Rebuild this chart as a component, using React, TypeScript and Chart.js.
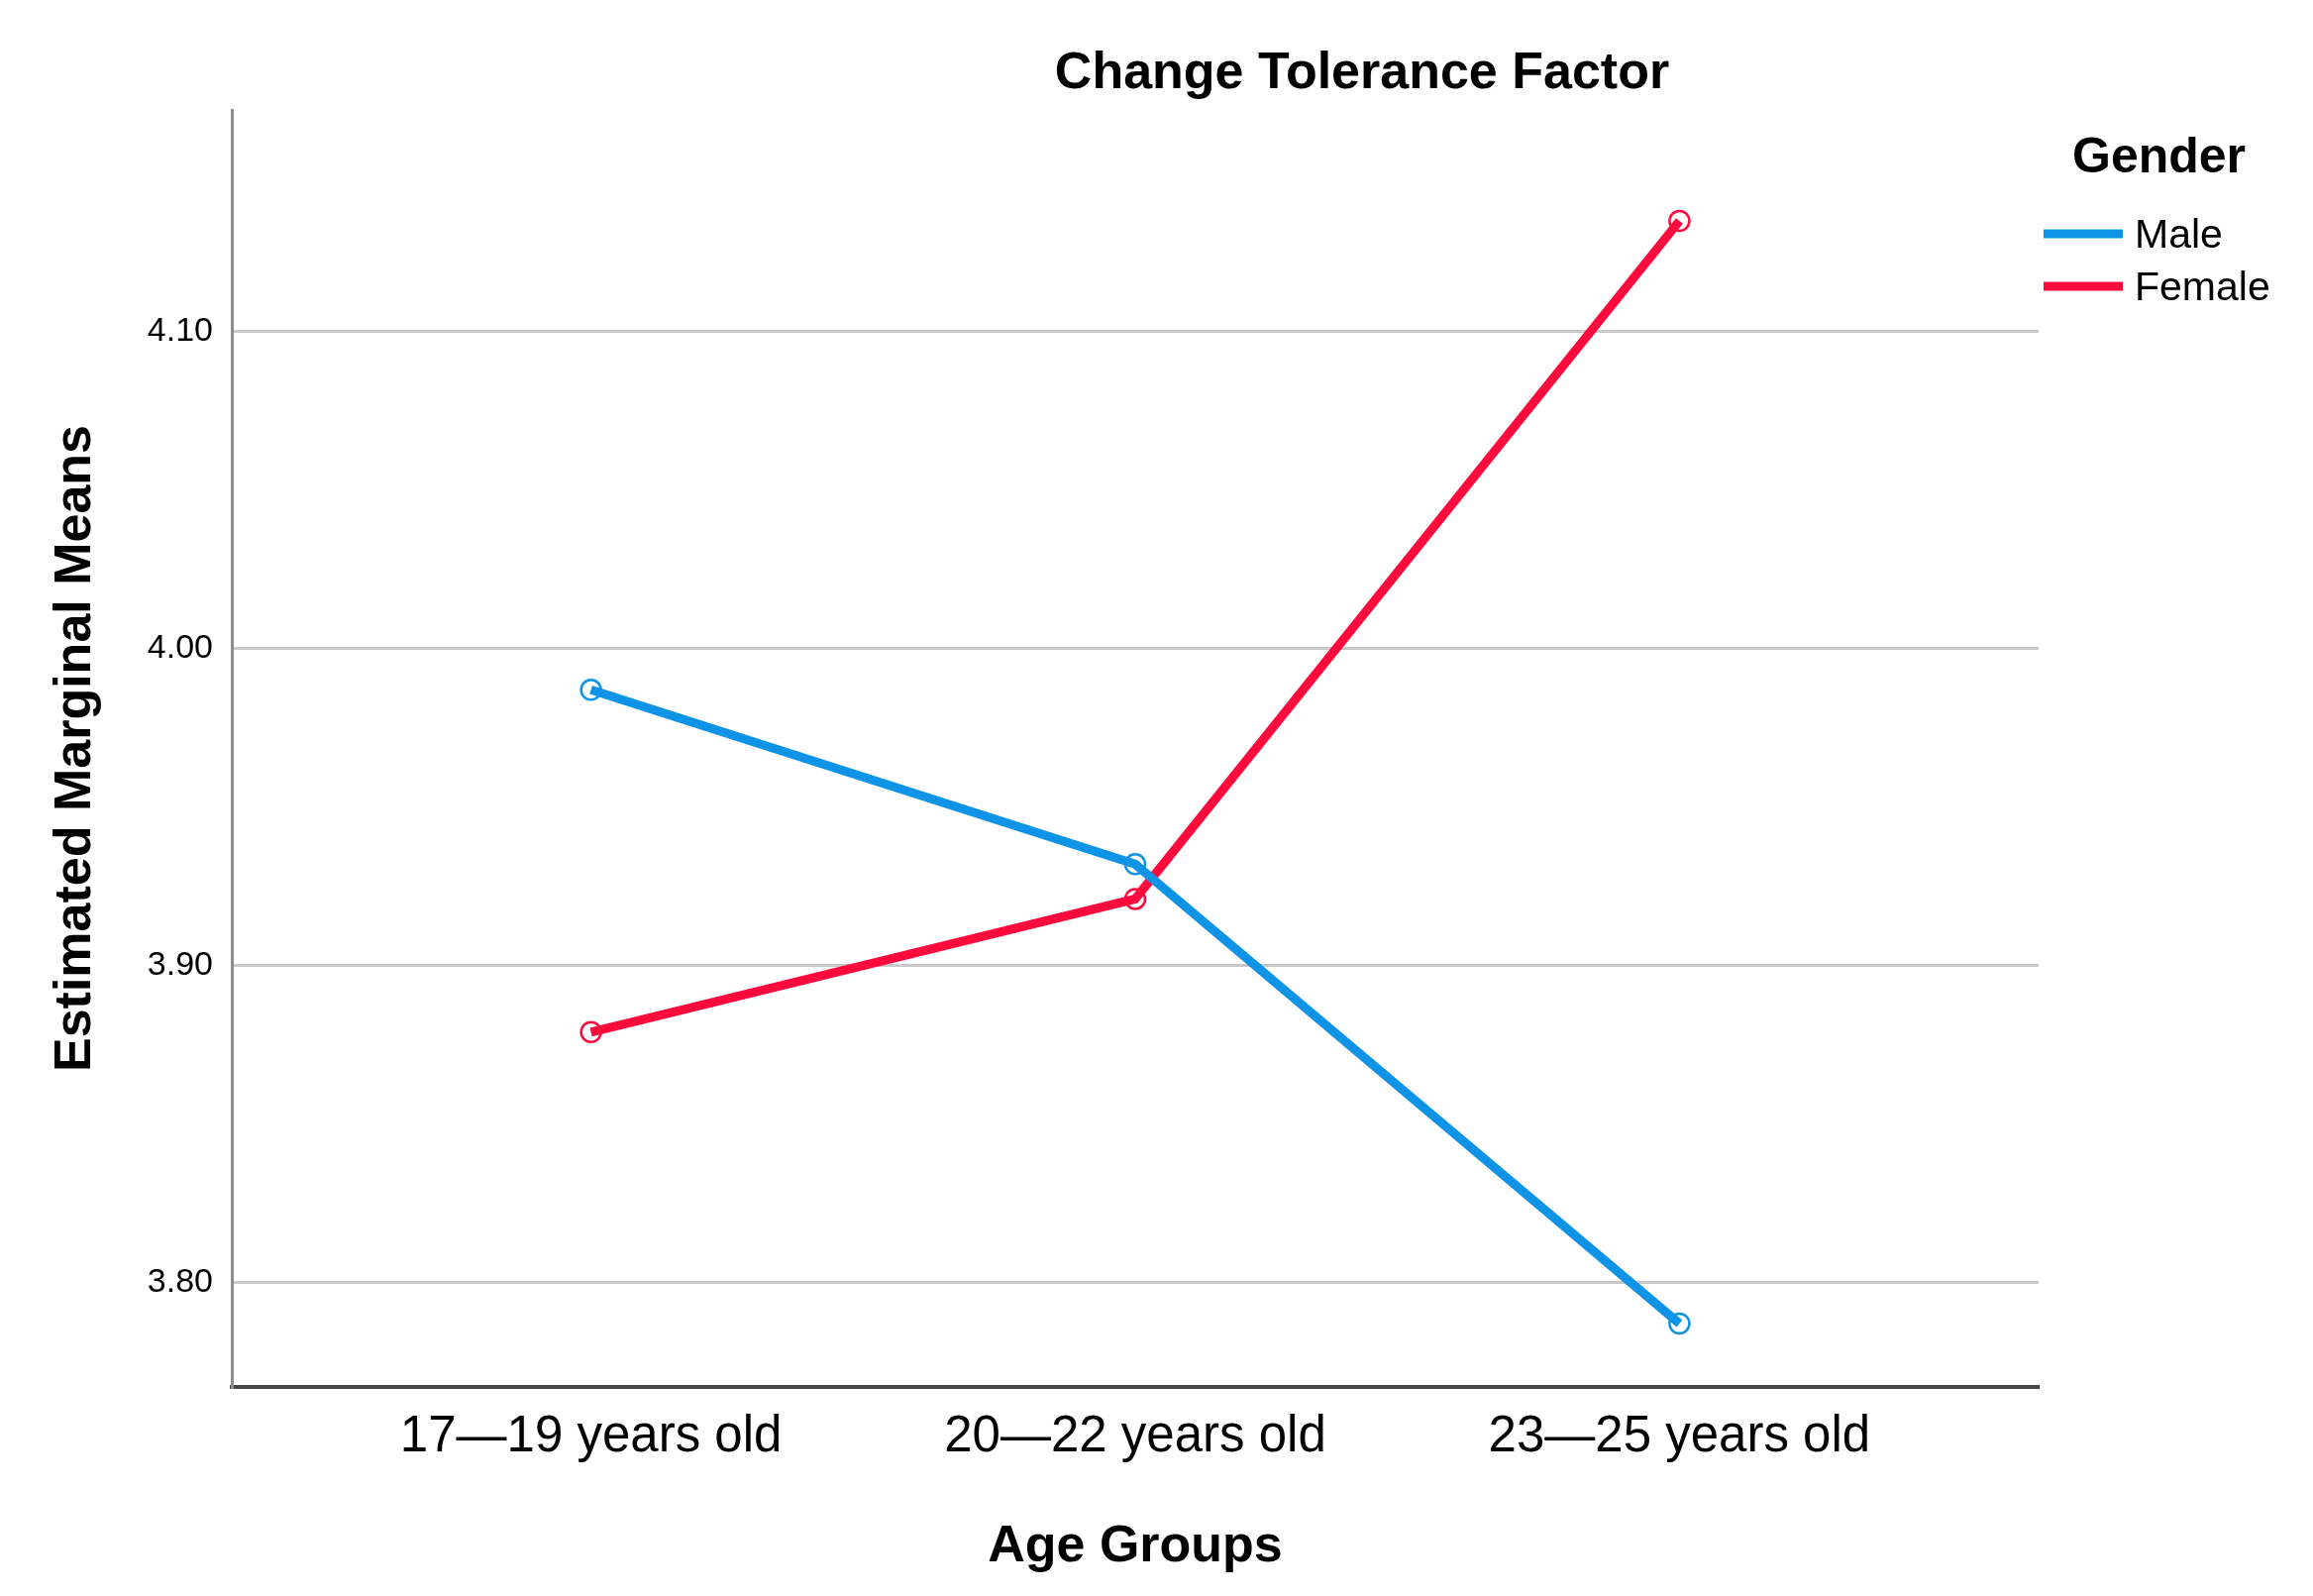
import { useEffect, useRef } from 'react';
import { Chart, registerables } from 'chart.js';

Chart.register(...registerables);

const FONT = '"Liberation Sans", Arial, sans-serif';

const chartTitle = 'Change Tolerance Factor';
const xTitle = 'Age Groups';
const yTitle = 'Estimated Marginal Means';
const legendTitle = 'Gender';

const ageGroups = ['17—19 years old', '20—22 years old', '23—25 years old'];
const genders = ['Male', 'Female'];
const maleMeans = [3.987, 3.932, 3.787];
const femaleMeans = [3.879, 3.921, 4.135];
const yTicks = [3.8, 3.9, 4.0, 4.1];
const seriesColors = ['#0F93E6', '#FF0A3C'];

// draws the SPSS-style title and the legend block on the right
const textPlugin = {
  id: 'spssText',
  afterDraw(chart: any) {
    const { ctx } = chart;
    ctx.save();
    ctx.fillStyle = '#000';
    ctx.textBaseline = 'middle';
    ctx.textAlign = 'center';
    ctx.font = `bold 52px ${FONT}`;
    ctx.fillText(chartTitle, 1375, 75);

    ctx.textAlign = 'left';
    ctx.font = `bold 50px ${FONT}`;
    ctx.fillText(legendTitle, 2092, 160);

    chart.data.datasets.forEach((ds: any, i: number) => {
      const y = 236 + i * 53;
      ctx.strokeStyle = ds.borderColor;
      ctx.lineWidth = 9;
      ctx.beginPath();
      ctx.moveTo(2063, y);
      ctx.lineTo(2143, y);
      ctx.stroke();
      ctx.font = `41px ${FONT}`;
      ctx.fillText(ds.label, 2155, y + 3);
    });
    ctx.restore();
  },
};

export default function App() {
  const canvasRef = useRef<HTMLCanvasElement>(null);
  const chartRef = useRef<Chart | null>(null);

  useEffect(() => {
    if (chartRef.current) chartRef.current.destroy();
    if (!canvasRef.current) return;
    const ctx = canvasRef.current.getContext('2d');
    if (!ctx) return;

    const series = [maleMeans, femaleMeans];

    chartRef.current = new Chart(ctx, {
      type: 'line',
      data: {
        datasets: genders.map((g, i) => ({
          label: g,
          data: series[i].map((v, j) => ({ x: j, y: v })),
          borderColor: seriesColors[i],
          borderWidth: 9,
          tension: 0,
          pointRadius: 10,
          pointBorderWidth: 2.5,
          pointBorderColor: seriesColors[i],
          pointBackgroundColor: 'rgba(255,255,255,0)',
          fill: false,
        })),
      },
      options: {
        animation: false,
        responsive: true,
        maintainAspectRatio: false,
        layout: { padding: { top: 111, right: 277, left: 0, bottom: 0 } },
        plugins: {
          legend: { display: false },
          title: { display: false },
          tooltip: { enabled: false },
        },
        scales: {
          x: {
            type: 'linear',
            min: -0.66,
            max: 2.66,
            afterBuildTicks: (s: any) => {
              s.ticks = ageGroups.map((_, i) => ({ value: i }));
            },
            afterFit: (s: any) => {
              s.height = 211;
            },
            grid: { display: false, drawTicks: false },
            border: { display: true, color: '#454545', width: 4 },
            ticks: {
              callback: (v: any) => ageGroups[Number(v)] ?? '',
              font: { size: 51, family: FONT },
              color: '#000',
              padding: 20,
              maxRotation: 0,
              autoSkip: false,
            },
            title: {
              display: true,
              text: xTitle,
              font: { size: 52, weight: 'bold', family: FONT },
              color: '#000',
              padding: { top: 0, bottom: 18 },
            },
          },
          y: {
            type: 'linear',
            min: 3.767,
            max: 4.17,
            afterBuildTicks: (s: any) => {
              s.ticks = yTicks.map((v) => ({ value: v }));
            },
            afterFit: (s: any) => {
              s.width = 234;
            },
            grid: { color: '#C8C8C8', lineWidth: 3, drawTicks: false },
            border: { color: '#8C8C8C', width: 3 },
            ticks: {
              callback: (v: any) => Number(v).toFixed(2),
              font: { size: 34, family: FONT },
              color: '#000',
              padding: 19,
            },
            title: {
              display: true,
              text: yTitle,
              font: { size: 52, weight: 'bold', family: FONT },
              color: '#000',
              padding: { top: 45, bottom: 0 },
            },
          },
        },
      },
      plugins: [textPlugin],
    } as any);

    return () => {
      if (chartRef.current) {
        chartRef.current.destroy();
        chartRef.current = null;
      }
    };
  }, []);

  return (
    <div style={{ position: 'absolute', left: 0, top: 0, width: 2335, height: 1611, background: '#fff' }}>
      <canvas ref={canvasRef}></canvas>
    </div>
  );
}
